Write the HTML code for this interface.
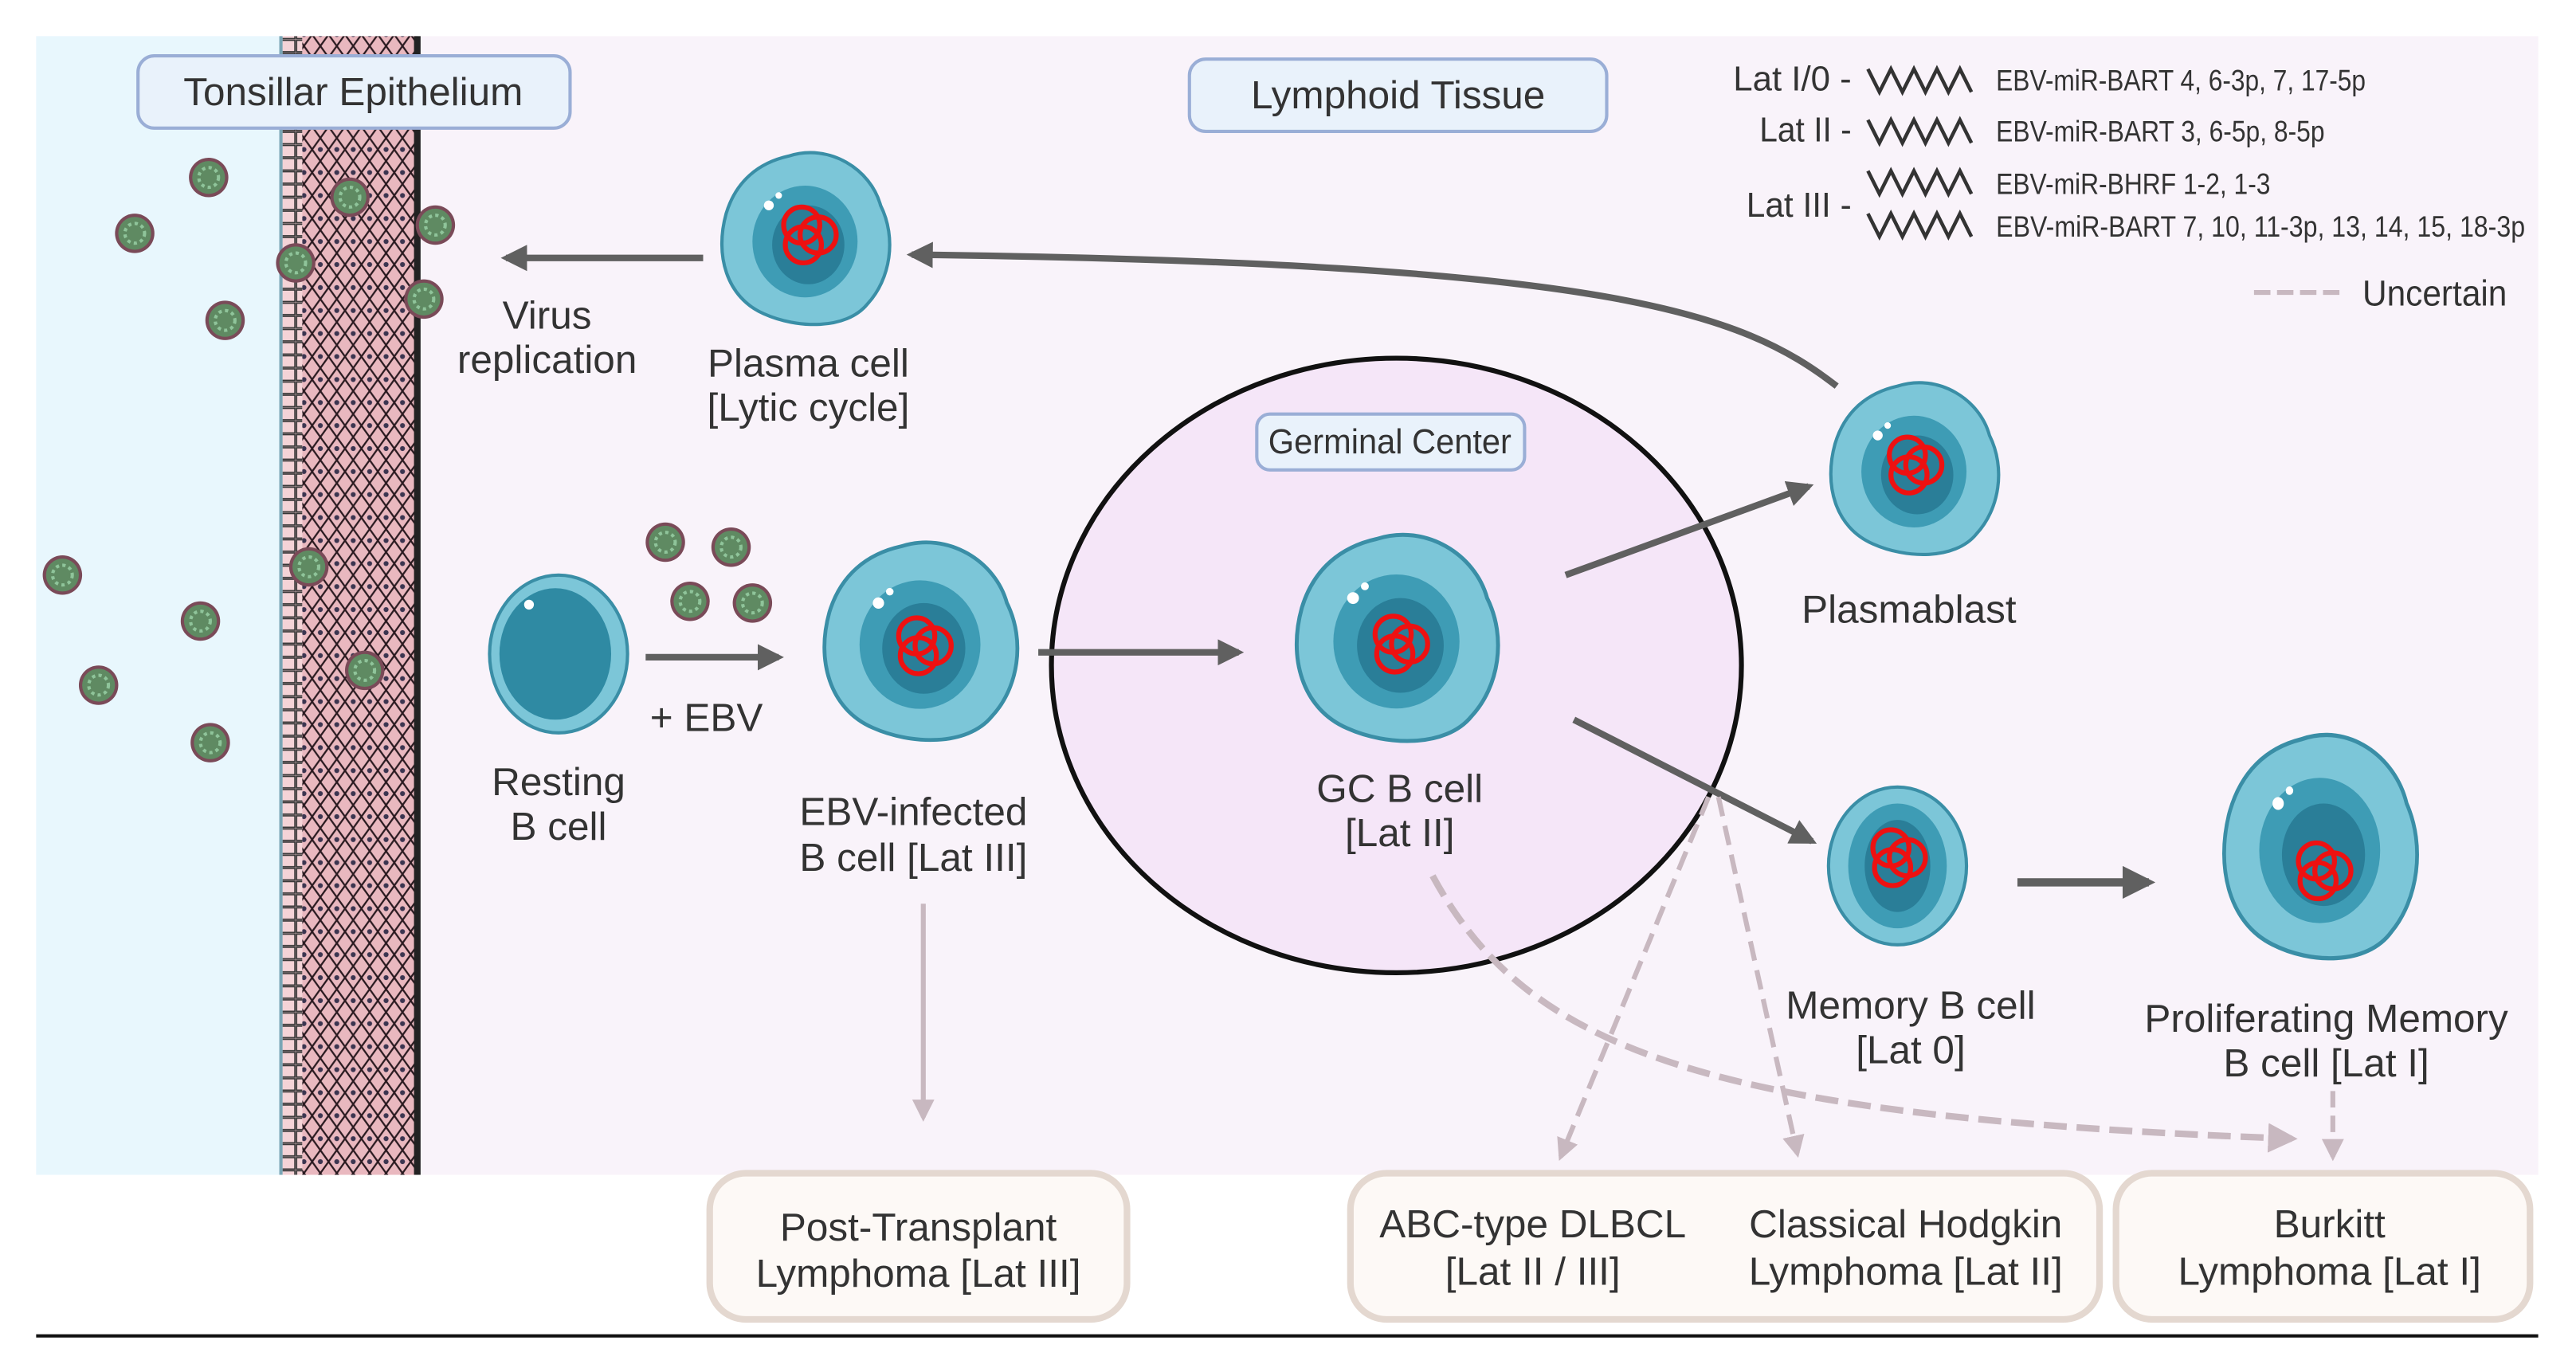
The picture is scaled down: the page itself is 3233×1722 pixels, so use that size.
<!DOCTYPE html>
<html><head><meta charset="utf-8"><style>
html,body{margin:0;padding:0;background:#fff}
svg{display:block}
text{font-family:"Liberation Sans Narrow","Liberation Sans",sans-serif;fill:#333}
</style></head><body>
<svg width="3233" height="1722" viewBox="0 0 1568 835" preserveAspectRatio="none" xmlns="http://www.w3.org/2000/svg">
<defs>
<pattern id="epi" width="10" height="14" patternUnits="userSpaceOnUse">
<rect width="10" height="14" fill="#e9b8bf"/>
<path d="M0 7 L5 0 L10 7 L5 14 Z" fill="none" stroke="#2a1a20" stroke-width="1.1"/>
<circle cx="5" cy="7" r="1.5" fill="#3b3550"/>
</pattern>
<pattern id="basal" width="10" height="8" patternUnits="userSpaceOnUse">
<rect width="10" height="8" fill="#f4d3d7"/><rect x="0.5" y="0.5" width="9" height="7" fill="none" stroke="#333" stroke-width="0.8"/>
</pattern>
<g id="virus">
<circle r="12" fill="#7a4a58"/>
<circle r="10" fill="#5f8a62"/>
<circle r="6" fill="none" stroke="#8fc49a" stroke-width="2" stroke-dasharray="2 2"/>
</g>
<g id="nuc">
<circle cx="-4" cy="-6" r="11" fill="none" stroke="#ee1111" stroke-width="3"/>
<circle cx="6" cy="0" r="11" fill="none" stroke="#ee1111" stroke-width="3"/>
<circle cx="-3" cy="6" r="11" fill="none" stroke="#ee1111" stroke-width="3"/>
</g>
<g id="blob">
<path d="M-10 -50 C15 -58 40 -42 46 -20 C56 0 52 25 38 40 C25 56 -5 55 -25 46 C-48 36 -55 10 -48 -15 C-42 -35 -28 -46 -10 -50 Z" fill="#7cc6d8" stroke="#3a8ea6" stroke-width="2"/>
<ellipse cx="0" cy="2" rx="32" ry="34" fill="#3e9cb5"/>
<ellipse cx="2" cy="4" rx="22" ry="24" fill="#2a7e98"/>
<circle cx="-22" cy="-20" r="3" fill="#fff"/><circle cx="-16" cy="-26" r="2" fill="#fff"/>
</g>
<marker id="ah" viewBox="0 0 10 10" refX="8" refY="5" markerWidth="4" markerHeight="4" orient="auto"><path d="M0 0 L10 5 L0 10 Z" fill="#606060"/></marker>
<marker id="ahl" viewBox="0 0 10 10" refX="8" refY="5" markerWidth="4.5" markerHeight="4.5" orient="auto"><path d="M0 0 L10 5 L0 10 Z" fill="#c8b8c0"/></marker>
</defs>

<rect x="22" y="22" width="1523" height="693" fill="#f9f3fa"/>
<rect x="22" y="22" width="150" height="693" fill="#e8f7fd"/>
<rect x="172" y="22" width="12" height="693" fill="url(#basal)"/>
<rect x="184" y="22" width="70" height="693" fill="url(#epi)"/>
<rect x="252" y="22" width="4" height="693" fill="#222"/>
<rect x="170" y="22" width="2" height="693" fill="#7aa5b5"/>
<line x1="22" y1="813" x2="1545" y2="813" stroke="#111" stroke-width="2"/>

<rect x="84" y="34" width="263" height="44" rx="10" fill="#e9f2fb" stroke="#9aaed6" stroke-width="2"/>
<text x="215" y="64" font-size="24" text-anchor="middle" font-family="Liberation Sans">Tonsillar Epithelium</text>
<rect x="724" y="36" width="254" height="44" rx="10" fill="#e9f2fb" stroke="#9aaed6" stroke-width="2"/>
<text x="851" y="66" font-size="24" text-anchor="middle" font-family="Liberation Sans">Lymphoid Tissue</text>

<g>
<text x="1127" y="55" text-anchor="end" font-size="21" textLength="72" lengthAdjust="spacingAndGlyphs">Lat I/0 -</text>
<text x="1127" y="86" text-anchor="end" font-size="21" textLength="56" lengthAdjust="spacingAndGlyphs">Lat II -</text>
<text x="1127" y="132" text-anchor="end" font-size="21" textLength="64" lengthAdjust="spacingAndGlyphs">Lat III -</text>
<g fill="none" stroke="#333" stroke-width="2.2">
<path d="M1137 42 l7 14 l7 -14 l7 14 l7 -14 l7 14 l7 -14 l7 14 l7 -14 l7 14"/>
<path d="M1137 73 l7 14 l7 -14 l7 14 l7 -14 l7 14 l7 -14 l7 14 l7 -14 l7 14"/>
<path d="M1137 104 l7 14 l7 -14 l7 14 l7 -14 l7 14 l7 -14 l7 14 l7 -14 l7 14"/>
<path d="M1137 130 l7 14 l7 -14 l7 14 l7 -14 l7 14 l7 -14 l7 14 l7 -14 l7 14"/>
</g>
<text x="1215" y="55" font-size="18" textLength="225" lengthAdjust="spacingAndGlyphs">EBV-miR-BART 4, 6-3p, 7, 17-5p</text>
<text x="1215" y="86" font-size="18" textLength="200" lengthAdjust="spacingAndGlyphs">EBV-miR-BART 3, 6-5p, 8-5p</text>
<text x="1215" y="118" font-size="18" textLength="167" lengthAdjust="spacingAndGlyphs">EBV-miR-BHRF 1-2, 1-3</text>
<text x="1215" y="144" font-size="18" textLength="322" lengthAdjust="spacingAndGlyphs">EBV-miR-BART 7, 10, 11-3p, 13, 14, 15, 18-3p</text>
<line x1="1372" y1="178" x2="1424" y2="178" stroke="#c8b8c0" stroke-width="3" stroke-dasharray="10 4"/>
<text x="1438" y="186" font-size="22" textLength="88" lengthAdjust="spacingAndGlyphs">Uncertain</text>
</g>

<g>
<use href="#virus" x="127" y="108"/><use href="#virus" x="82" y="142"/><use href="#virus" x="137" y="195"/>
<use href="#virus" x="180" y="160"/><use href="#virus" x="213" y="120"/><use href="#virus" x="265" y="137"/>
<use href="#virus" x="258" y="182"/><use href="#virus" x="38" y="350"/><use href="#virus" x="122" y="378"/>
<use href="#virus" x="60" y="417"/><use href="#virus" x="128" y="452"/><use href="#virus" x="188" y="345"/>
<use href="#virus" x="222" y="408"/><use href="#virus" x="405" y="330"/><use href="#virus" x="445" y="333"/>
<use href="#virus" x="420" y="366"/><use href="#virus" x="458" y="367"/>
</g>

<ellipse cx="850" cy="405" rx="210" ry="187" fill="#f5e6f8" stroke="#111" stroke-width="3"/>
<rect x="765" y="252" width="163" height="34" rx="8" fill="#e9f2fb" stroke="#9aaed6" stroke-width="2"/>
<text x="846" y="276" font-size="21" text-anchor="middle" textLength="148" lengthAdjust="spacingAndGlyphs">Germinal Center</text>

<g stroke="#606060" stroke-width="4" fill="none" marker-end="url(#ah)">
<line x1="428" y1="157" x2="308" y2="157"/>
<path d="M1118 235 C1060 190 980 160 555 155"/>
<line x1="393" y1="400" x2="474" y2="400"/>
<line x1="632" y1="397" x2="754" y2="397"/>
<line x1="953" y1="350" x2="1101" y2="296"/>
<line x1="958" y1="438" x2="1103" y2="512"/>
<line x1="1228" y1="537" x2="1308" y2="537" stroke-width="5"/>
</g>
<g stroke="#c8b8c0" stroke-width="3" fill="none" marker-end="url(#ahl)">
<line x1="562" y1="550" x2="562" y2="680"/>
<line x1="1040" y1="485" x2="950" y2="704" stroke-dasharray="12 6"/>
<line x1="1046" y1="485" x2="1094" y2="702" stroke-dasharray="12 6"/>
<path d="M872 533 C930 640 1040 680 1395 693" stroke-dasharray="14 6" stroke-width="4"/>
<line x1="1420" y1="664" x2="1420" y2="704" stroke-dasharray="10 5"/>
</g>

<use href="#blob" transform="translate(490,145) scale(1.0)"/><use href="#nuc" x="492" y="143"/>
<g transform="translate(340,398)"><ellipse rx="42" ry="48" fill="#7cc6d8" stroke="#3a8ea6" stroke-width="2"/><ellipse cx="-2" cy="0" rx="34" ry="40" fill="#2f8aa3"/><circle cx="-18" cy="-30" r="3" fill="#fff"/></g>
<use href="#blob" transform="translate(560,390) scale(1.15)"/><use href="#nuc" x="562" y="393"/>
<use href="#blob" transform="translate(850,388) scale(1.2)"/><use href="#nuc" x="852" y="392"/>
<use href="#blob" transform="translate(1165,285) scale(1.0)"/><use href="#nuc" x="1165" y="283"/>
<g transform="translate(1155,527)"><ellipse rx="42" ry="48" fill="#7cc6d8" stroke="#3a8ea6" stroke-width="2"/><ellipse rx="30" ry="38" fill="#3e9cb5"/><ellipse rx="20" ry="28" fill="#2a7e98"/></g><use href="#nuc" x="1155" y="522"/>
<use href="#blob" transform="translate(1412,515) scale(1.15,1.3)"/><use href="#nuc" x="1414" y="530"/>

<g font-size="24" text-anchor="middle">
<text x="333" y="200">Virus</text><text x="333" y="227">replication</text>
<text x="492" y="229">Plasma cell</text><text x="492" y="256">[Lytic cycle]</text>
<text x="340" y="484">Resting</text><text x="340" y="511">B cell</text>
<text x="430" y="445">+ EBV</text>
<text x="556" y="502">EBV-infected</text><text x="556" y="530">B cell [Lat III]</text>
<text x="852" y="488">GC B cell</text><text x="852" y="515">[Lat II]</text>
<text x="1162" y="379">Plasmablast</text>
<text x="1163" y="620">Memory B cell</text><text x="1163" y="647">[Lat 0]</text>
<text x="1416" y="628">Proliferating Memory</text><text x="1416" y="655">B cell [Lat I]</text>
</g>

<g fill="#fdf9f6" stroke="#e4d8d0" stroke-width="4">
<rect x="432" y="714" width="254" height="89" rx="22"/>
<rect x="822" y="714" width="456" height="89" rx="22"/>
<rect x="1288" y="714" width="252" height="89" rx="22"/>
</g>
<g font-size="24" text-anchor="middle">
<text x="559" y="755">Post-Transplant</text><text x="559" y="783">Lymphoma [Lat III]</text>
<text x="933" y="753">ABC-type DLBCL</text><text x="933" y="782">[Lat II / III]</text>
<text x="1160" y="753">Classical Hodgkin</text><text x="1160" y="782">Lymphoma [Lat II]</text>
<text x="1418" y="753">Burkitt</text><text x="1418" y="782">Lymphoma [Lat I]</text>
</g>
</svg>
</body></html>
